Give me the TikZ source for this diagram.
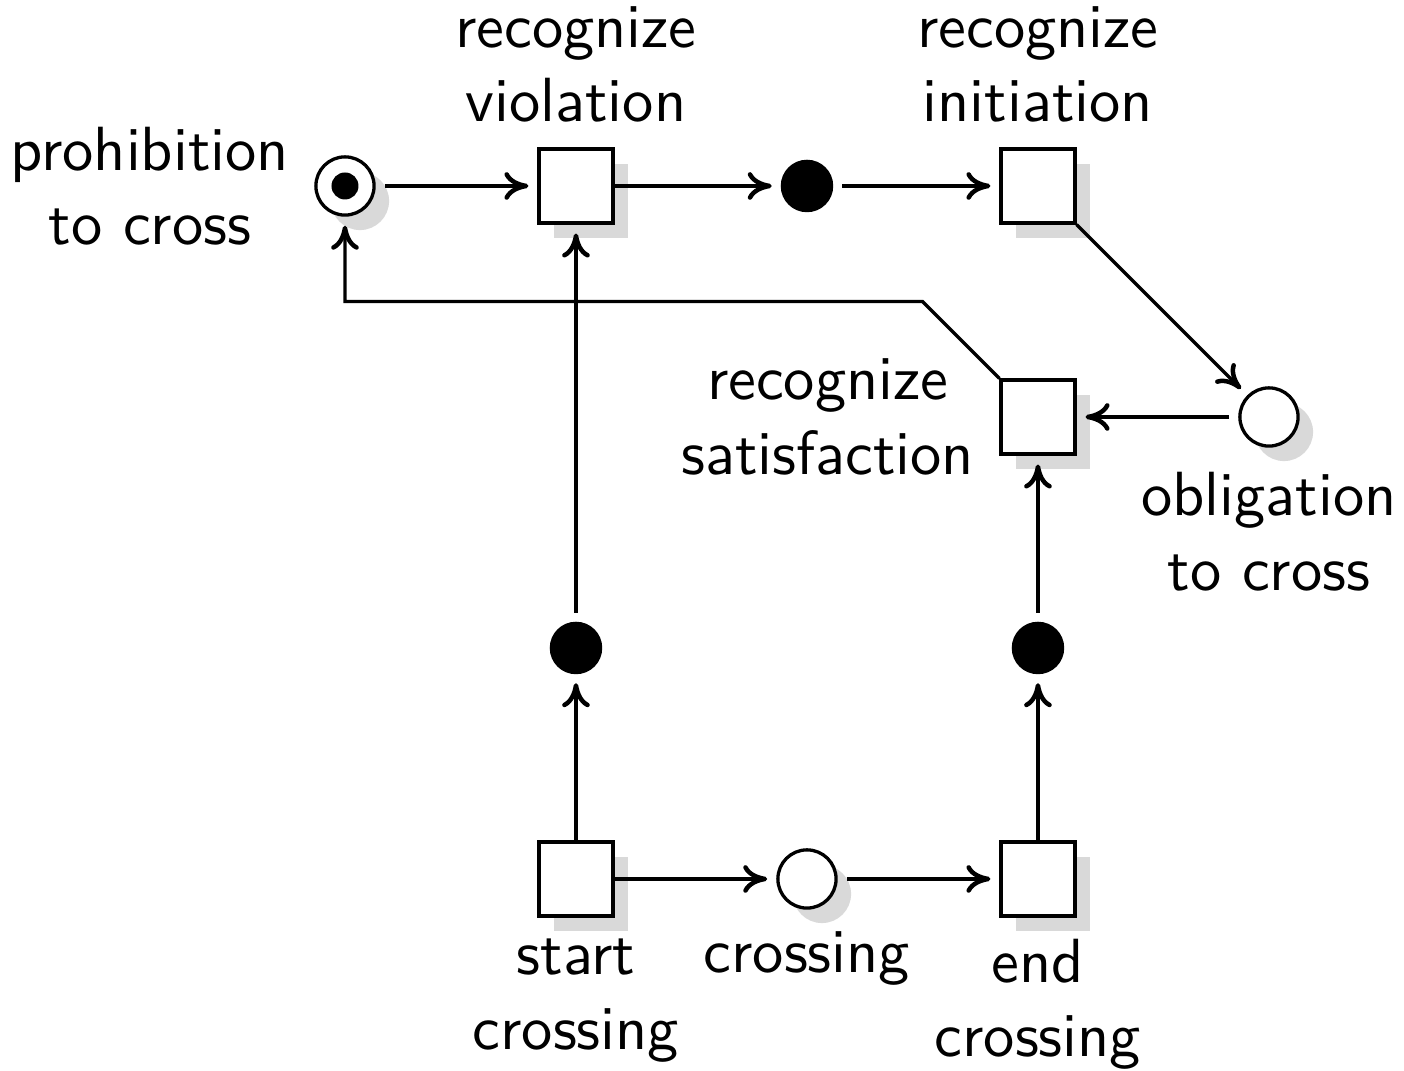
\documentclass[tikz,border=0pt]{standalone}
\usepackage{tikz}
\usetikzlibrary{arrows.meta,positioning,shadows,calc}

\begin{document}
\begin{tikzpicture}[
    font=\sffamily\fontsize{10.4}{12.4}\selectfont,
    line width=0.55pt,
    node distance=38.5pt,
    placenode/.style={on grid, circle, draw, fill=white, minimum size=9.7pt, inner sep=0pt,
        drop shadow={shadow xshift=2.5pt, shadow yshift=-2.5pt, fill=black!15, opacity=1}},
    transnode/.style={on grid, rectangle, draw, fill=white, minimum size=12.3pt, inner sep=0pt,
        drop shadow={shadow xshift=2.5pt, shadow yshift=-2.5pt, fill=black!15, opacity=1}},
    blacknode/.style={on grid, circle, draw, fill=black, minimum size=8.2pt, inner sep=0pt},
    tokennode/.style={circle, fill=black, minimum size=4.5pt, inner sep=0pt},
    lbl/.style={on grid=false, align=center},
    outarc/.style={-{Computer Modern Rightarrow[length=4pt,width=4.6pt,line width=0.75pt]}, shorten >=1.5pt},
    inarc/.style={outarc, shorten <=1.5pt}
]
    \useasboundingbox (-57.5pt,-147.5pt) rectangle (176.5pt,31pt);

    % Top row
    \node[placenode] (prohib) at (0,0) {};
    \node[tokennode] (tok) at (prohib) {};
    \node[transnode, right=of prohib] (violate) {};
    \node[blacknode, right=of violate] (violated) {};
    \node[transnode, right=of violated] (initiate) {};

    % Right column
    \node[placenode, below right=38.5pt and 38.5pt of initiate] (oblig) {};
    \node[transnode, below=of initiate] (satisfy) {};
    \node[blacknode, below=of satisfy] (ended) {};

    % Bottom row
    \node[transnode, below=of ended] (endx) {};
    \node[placenode, left=of endx] (crossing) {};
    \node[transnode, left=of crossing] (startx) {};
    \node[blacknode, above=of startx] (started) {};

    \coordinate (back) at ($(satisfy.north west)+(-12.83pt,12.83pt)$);

    % Labels
    \node[lbl, left=0.6pt of prohib] (prohibtxt) {prohibition\\to cross};
    \node[lbl, above=0.6pt of violate] (violatetxt) {recognize\\violation};
    \node[lbl, above=0.6pt of initiate] (initiatetxt) {recognize\\initiation};
    \node[lbl, left=0.6pt of satisfy] (satisfytxt) {recognize\\satisfaction};
    \node[lbl, below=0.5pt of oblig] (obligtxt) {obligation\\to cross};
    \node[lbl, below=0pt of startx] (startxtxt) {start\\crossing};
    \node[lbl, below=0pt of crossing] (crossingtxt) {crossing};
    \node[lbl, below=0pt of endx] (endxtxt) {end\\crossing};

    % Arcs
    \draw[inarc] (prohib) -- (violate);
    \draw[outarc] (violate) -- (violated);
    \draw[inarc] (violated) -- (initiate);
    \draw[outarc] (initiate) -- (oblig);
    \draw[inarc] (oblig) -- (satisfy);
    \draw[outarc] (satisfy) -- (back) -| (prohib);
    \draw[outarc] (startx) -- (started);
    \draw[inarc] (started) -- (violate);
    \draw[outarc] (startx) -- (crossing);
    \draw[inarc] (crossing) -- (endx);
    \draw[outarc] (endx) -- (ended);
    \draw[inarc] (ended) -- (satisfy);
\end{tikzpicture}
\end{document}
